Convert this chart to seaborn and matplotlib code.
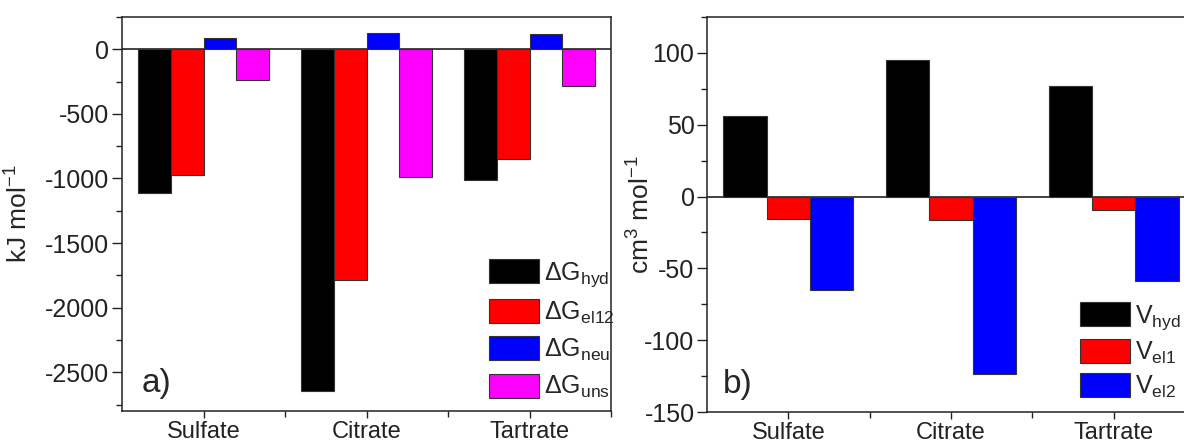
import matplotlib
matplotlib.use("Agg")
import matplotlib.pyplot as plt
import numpy as np
import pandas as pd
import seaborn as sns
from matplotlib.ticker import MultipleLocator

# data
anions = ["Sulfate", "Citrate", "Tartrate"]

dg_terms = ["ΔG$_{\\mathrm{hyd}}$", "ΔG$_{\\mathrm{el12}}$", "ΔG$_{\\mathrm{neu}}$", "ΔG$_{\\mathrm{uns}}$"]
dg_hyd = [-1113, -2647, -1013]
dg_el12 = [-972, -1784, -851]
dg_neu = [90, 126, 116]
dg_uns = [-237, -992, -281]
dg_colors = ["#000000", "#ff0000", "#0000ff", "#ff00ff"]

v_terms = ["V$_{\\mathrm{hyd}}$", "V$_{\\mathrm{el1}}$", "V$_{\\mathrm{el2}}$"]
v_hyd = [56.3, 95.3, 76.7]
v_el1 = [-15.6, -16.3, -9.3]
v_el2 = [-65.1, -123.3, -58.8]
v_colors = ["#000000", "#ff0000", "#0000ff"]


def long_frame(terms, series):
    rows = []
    for term, vals in zip(terms, series):
        for anion, v in zip(anions, vals):
            rows.append({"anion": anion, "term": term, "value": v})
    return pd.DataFrame(rows)


def style_axis(ax):
    for side in ["left", "right", "top", "bottom"]:
        ax.spines[side].set_visible(True)
        ax.spines[side].set_linewidth(1.1)
        ax.spines[side].set_color("#222222")
    ax.tick_params(axis="both", which="major", direction="out", length=6, width=1.0,
                   labelsize=18, colors="#222222", top=False, right=False)
    ax.tick_params(axis="both", which="minor", direction="out", length=4, width=1.0,
                   colors="#222222", top=False, right=False)
    ax.tick_params(axis="y", which="major", pad=2, length=7)
    ax.tick_params(axis="x", which="major", pad=2, length=5, labelsize=17)
    ax.set_xticks([0, 1, 2], minor=False)
    ax.set_xticks([0.5, 1.5, 2.5], minor=True)
    ax.set_xlim(-0.5, 2.5)
    ax.axhline(0, color="#111111", lw=1.1, zorder=1)
    ax.set_xlabel("")
    ax.grid(False)


sns.set_theme(style="ticks")
plt.rcParams["font.family"] = ["Liberation Sans", "DejaVu Sans"]
plt.rcParams["mathtext.fontset"] = "custom"
plt.rcParams["mathtext.rm"] = "Liberation Sans"
plt.rcParams["mathtext.it"] = "Liberation Sans:italic"
plt.rcParams["mathtext.bf"] = "Liberation Sans:bold"
plt.rcParams["axes.unicode_minus"] = False
plt.rcParams["axes.facecolor"] = "white"
plt.rcParams["figure.facecolor"] = "white"

fig = plt.figure(figsize=(11.84, 4.45), dpi=100)
ax1 = fig.add_axes([122 / 1184, 34 / 445, 489 / 1184, 394 / 445])
ax2 = fig.add_axes([707 / 1184, 33 / 445, 488 / 1184, 395 / 445])

legend_kw = dict(loc="lower left", frameon=False, fontsize=18, handlelength=2.0,
                 handleheight=1.1, handletextpad=0.2, borderpad=0, borderaxespad=0)

# panel a
df_g = long_frame(dg_terms, [dg_hyd, dg_el12, dg_neu, dg_uns])
sns.barplot(data=df_g, x="anion", y="value", hue="term", order=anions,
            hue_order=dg_terms, palette=dg_colors, saturation=1, width=0.8,
            edgecolor="#333333", linewidth=0.8, ax=ax1, zorder=2)
style_axis(ax1)
ax1.set_ylim(-2800, 250)
ax1.yaxis.set_major_locator(MultipleLocator(500))
ax1.yaxis.set_minor_locator(MultipleLocator(250))
ax1.set_ylabel("kJ mol$^{-1}$", fontsize=19)
ax1.yaxis.set_label_coords(-0.182, 0.5)
ax1.text(0.04, 0.03, "a)", transform=ax1.transAxes, fontsize=24, ha="left", va="bottom")
ax1.legend(bbox_to_anchor=(0.75, 0.027), labelspacing=0.42, **legend_kw)

# panel b
df_v = long_frame(v_terms, [v_hyd, v_el1, v_el2])
sns.barplot(data=df_v, x="anion", y="value", hue="term", order=anions,
            hue_order=v_terms, palette=v_colors, saturation=1, width=0.8,
            edgecolor="#333333", linewidth=0.8, ax=ax2, zorder=2)
style_axis(ax2)
ax2.set_ylim(-150, 125)
ax2.yaxis.set_major_locator(MultipleLocator(50))
ax2.yaxis.set_minor_locator(MultipleLocator(25))
ax2.set_ylabel("cm$^{3}$ mol$^{-1}$", fontsize=19)
ax2.yaxis.set_label_coords(-0.107, 0.5)
ax2.text(0.033, 0.03, "b)", transform=ax2.transAxes, fontsize=24, ha="left", va="bottom")
ax2.legend(bbox_to_anchor=(0.765, 0.03), labelspacing=0.3, **legend_kw)

fig.savefig("out.png", dpi=100, facecolor="white")
